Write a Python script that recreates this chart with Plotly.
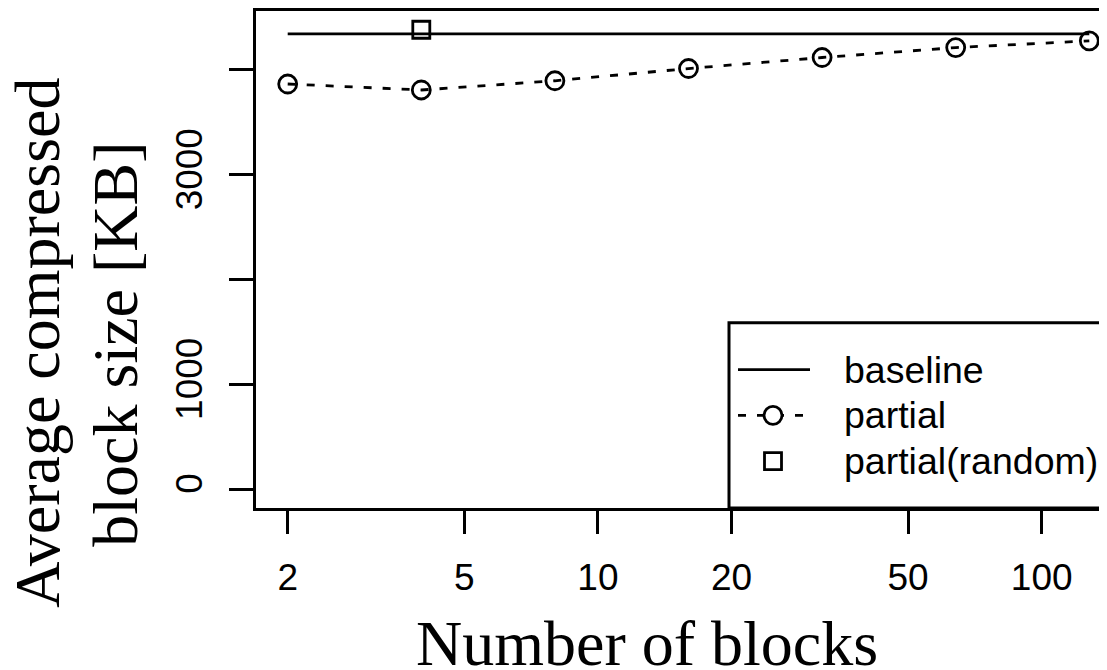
import plotly.graph_objects as go

# ---- data ----
blocks = [2, 4, 8, 16, 32, 64, 128]
baseline = [4344, 4344, 4344, 4344, 4344, 4344, 4344]
partial = [3866, 3809, 3897, 4014, 4119, 4214, 4278]
random_blocks = [4]
random_size = [4384]

x_tickvals = [2, 5, 10, 20, 50, 100]
x_ticktext = ["2", "5", "10", "20", "50", "100"]
y_tickvals = [0, 1000, 2000, 3000, 4000]
y_ticktext = ["0", "1000", "", "3000", ""]

legend_labels = ["baseline", "partial", "partial(random)"]

# page body has an 8px default margin; the figure is sized to fill the rest
OFF = 8
W, H = 1107 - OFF, 670 - OFF
ML, MR, MT, MB = 256 - OFF, 0, 9 - OFF, 162
PW, PH = W - ML - MR, H - MT - MB

SANS = "Liberation Sans, Arial, sans-serif"
SERIF = "Liberation Serif, Times New Roman, serif"
TICK_FS = 37
LEG_FS = 37.5
AX_W = 3
LN_W = 2.8

fig = go.Figure()
fig.add_trace(go.Scatter(x=blocks, y=baseline, mode="lines",
                         line=dict(color="black", width=LN_W), showlegend=False,
                         name=legend_labels[0]))
fig.add_trace(go.Scatter(x=blocks, y=partial, mode="lines+markers",
                         line=dict(color="black", width=LN_W, dash="8px,11px"),
                         marker=dict(symbol="circle-open", size=18, color="black",
                                     line=dict(width=LN_W, color="black")),
                         showlegend=False, name=legend_labels[1]))
fig.add_trace(go.Scatter(x=random_blocks, y=random_size, mode="markers",
                         marker=dict(symbol="square-open", size=17, color="black",
                                     line=dict(width=LN_W, color="black")),
                         showlegend=False, name=legend_labels[2]))


# page-pixel -> paper helpers (page pixels measured on the reference)
def px_x(px):
    return (px - OFF - ML) / PW


def px_y(py):
    return (H - MB - (py - OFF)) / PH


shapes = []
shapes.append(dict(type="rect", xref="paper", yref="paper",
                   x0=px_x(729), x1=1.2, y0=0, y1=px_y(322),
                   line=dict(color="black", width=AX_W), fillcolor="white", layer="above"))
row_y = [369, 415, 461]
sx0, sx1, sxc = 738, 810, 773
shapes.append(dict(type="line", xref="paper", yref="paper",
                   x0=px_x(sx0), x1=px_x(sx1), y0=px_y(row_y[0]), y1=px_y(row_y[0]),
                   line=dict(color="black", width=LN_W), layer="above"))
shapes.append(dict(type="line", xref="paper", yref="paper",
                   x0=px_x(sx0), x1=px_x(sx1), y0=px_y(row_y[1]), y1=px_y(row_y[1]),
                   line=dict(color="black", width=LN_W, dash="8px,11px"), layer="above"))
shapes.append(dict(type="circle", xref="paper", yref="paper",
                   xsizemode="pixel", ysizemode="pixel",
                   xanchor=px_x(sxc), yanchor=px_y(row_y[1]),
                   x0=-9, x1=9, y0=-9, y1=9, fillcolor="white",
                   line=dict(color="black", width=LN_W), layer="above"))
shapes.append(dict(type="rect", xref="paper", yref="paper",
                   xsizemode="pixel", ysizemode="pixel",
                   xanchor=px_x(sxc), yanchor=px_y(row_y[2]),
                   x0=-8.5, x1=8.5, y0=-8.5, y1=8.5,
                   line=dict(color="black", width=LN_W), layer="above"))

annotations = []
for lab, ry in zip(legend_labels, row_y):
    annotations.append(dict(text=lab, xref="paper", yref="paper",
                            x=px_x(842), y=px_y(ry), xanchor="left", yanchor="middle",
                            showarrow=False, font=dict(family=SANS, size=LEG_FS, color="black")))

# axis titles (two-line y title, serif)
annotations.append(dict(text="Number of blocks", xref="paper", yref="paper",
                        x=px_x(647), y=px_y(644), xanchor="center", yanchor="middle",
                        showarrow=False, font=dict(family=SERIF, size=64, color="black")))
annotations.append(dict(text="Average compressed", xref="paper", yref="paper",
                        x=px_x(38), y=px_y(342), xanchor="center", yanchor="middle",
                        textangle=-90, showarrow=False,
                        font=dict(family=SERIF, size=64, color="black")))
annotations.append(dict(text="block size [KB]", xref="paper", yref="paper",
                        x=px_x(116), y=px_y(344), xanchor="center", yanchor="middle",
                        textangle=-90, showarrow=False,
                        font=dict(family=SERIF, size=64, color="black")))

fig.update_layout(
    width=W, height=H,
    margin=dict(l=ML, r=MR, t=MT, b=MB, pad=0),
    paper_bgcolor="white", plot_bgcolor="white",
    showlegend=False,
    shapes=shapes, annotations=annotations,
    xaxis=dict(type="log", range=[0.2296, 2.1471],
               tickvals=x_tickvals, ticktext=x_ticktext,
               ticks="outside", ticklen=23, tickwidth=AX_W, tickcolor="black",
               showline=True, linecolor="black", linewidth=AX_W, mirror=True,
               showgrid=False, zeroline=False,
               tickfont=dict(family=SANS, size=TICK_FS, color="black"),
               ticklabelstandoff=12),
    yaxis=dict(range=[-181, 4563],
               tickvals=y_tickvals, ticktext=y_ticktext,
               ticks="outside", ticklen=24, tickwidth=AX_W, tickcolor="black",
               showline=True, linecolor="black", linewidth=AX_W, mirror=False,
               showgrid=False, zeroline=False, tickangle=-90,
               tickfont=dict(family=SANS, size=TICK_FS, color="black"),
               ticklabelstandoff=12),
)

fig.write_html("out.html")
